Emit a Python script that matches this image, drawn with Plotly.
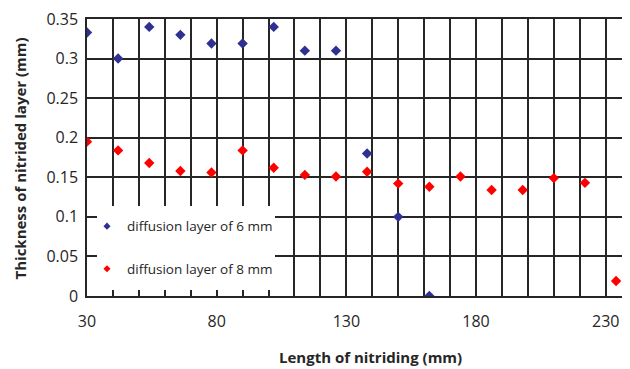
import plotly.graph_objects as go

# Data
x_6mm = [30, 42, 54, 66, 78, 90, 102, 114, 126, 138, 150, 162]
y_6mm = [0.333, 0.300, 0.340, 0.330, 0.319, 0.319, 0.340, 0.310, 0.310, 0.180, 0.100, 0.000]

x_8mm = [30, 42, 54, 66, 78, 90, 102, 114, 126, 138, 150, 162, 174, 186, 198, 210, 222, 234]
y_8mm = [0.195, 0.184, 0.168, 0.158, 0.156, 0.184, 0.162, 0.153, 0.151, 0.157, 0.142, 0.138,
         0.151, 0.134, 0.134, 0.149, 0.143, 0.019]

series_names = ["diffusion layer of 6 mm", "diffusion layer of 8 mm"]
x_tickvals = [30, 80, 130, 180, 230]
y_tickvals = [0, 0.05, 0.1, 0.15, 0.2, 0.25, 0.3, 0.35]
y_ticktext = ["0", "0.05", "0.1", "0.15", "0.2", "0.25", "0.3", "0.35"]

BLUE = "#2E3192"
RED = "#FF0000"
GRID = "#262626"
TXT = "#262626"
FONT = "Open Sans"

fig = go.Figure()
fig.add_trace(go.Scatter(x=x_6mm, y=y_6mm, mode="markers", showlegend=False,
                         marker=dict(symbol="diamond", size=8, color=BLUE)))
fig.add_trace(go.Scatter(x=x_8mm, y=y_8mm, mode="markers", showlegend=False,
                         marker=dict(symbol="diamond", size=8, color=RED)))
# legend entries (smaller symbols as in the reference)
fig.add_trace(go.Scatter(x=[None], y=[None], mode="markers", name=series_names[0],
                         legendgroup="a", marker=dict(symbol="diamond", size=5.5, color=BLUE)))
fig.add_trace(go.Scatter(x=[None], y=[None], mode="markers", name=series_names[1],
                         legendgroup="b", marker=dict(symbol="diamond", size=5.5, color=RED)))

# page has an 8px body margin: work in page pixels, convert to figure pixels
OFF = 8
W, H = 630 - OFF, 369 - OFF
L, R, T = 87 - OFF, 0, 16 - OFF
B = H - (296 - OFF)
pw, ph = W - L - R, H - T - B

def px_x(p):  # page pixel -> paper x
    return (p - OFF - L) / pw

def px_y(p):  # page pixel -> paper y
    return (H - B - (p - OFF)) / ph

fig.update_layout(
    width=W, height=H,
    margin=dict(l=L, r=R, t=T, b=B, pad=0),
    paper_bgcolor="white", plot_bgcolor="white",
    font=dict(family=FONT, color=TXT),
    showlegend=True,
    legend=dict(x=px_x(87), y=px_y(210), xanchor="left", yanchor="top",
                bgcolor="rgba(0,0,0,0)", borderwidth=0,
                font=dict(family=FONT, size=13.5, color=TXT),
                tracegroupgap=22),
    xaxis=dict(range=[30, 30 + pw / 2.5935], tickvals=x_tickvals,
               showgrid=True, gridcolor=GRID, gridwidth=1.5,
               minor=dict(dtick=10, tick0=30, showgrid=True, gridcolor=GRID, gridwidth=1.5),
               showline=True, linecolor=GRID, linewidth=1.5, mirror=True,
               ticks="", zeroline=False, ticklabeloverflow="allow",
               tickfont=dict(family=FONT, size=16, color=TXT), ticklabelstandoff=10),
    yaxis=dict(range=[0, 0.35], tickvals=y_tickvals, ticktext=y_ticktext,
               showgrid=True, gridcolor=GRID, gridwidth=1.5,
               showline=True, linecolor=GRID, linewidth=1.5,
               ticks="", zeroline=False, ticklabeloverflow="allow",
               tickfont=dict(family=FONT, size=16, color=TXT), ticklabelstandoff=4),
    shapes=[dict(type="rect", xref="paper", yref="paper",
                 x0=px_x(97), x1=px_x(275), y0=px_y(290), y1=px_y(205),
                 fillcolor="white", line=dict(width=0), layer="above")],
    annotations=[
        dict(text="<b>Length of nitriding (mm)</b>", xref="paper", yref="paper",
             x=px_x(370), y=px_y(358), xanchor="center", yanchor="middle",
             showarrow=False, font=dict(family=FONT, size=15, color=TXT)),
        dict(text="<b>Thickness of nitrided layer (mm)</b>", xref="paper", yref="paper",
             x=px_x(20), y=px_y(157), xanchor="center", yanchor="middle",
             textangle=-90, showarrow=False, font=dict(family=FONT, size=15, color=TXT)),
    ],
)

fig.write_html("out.html")
